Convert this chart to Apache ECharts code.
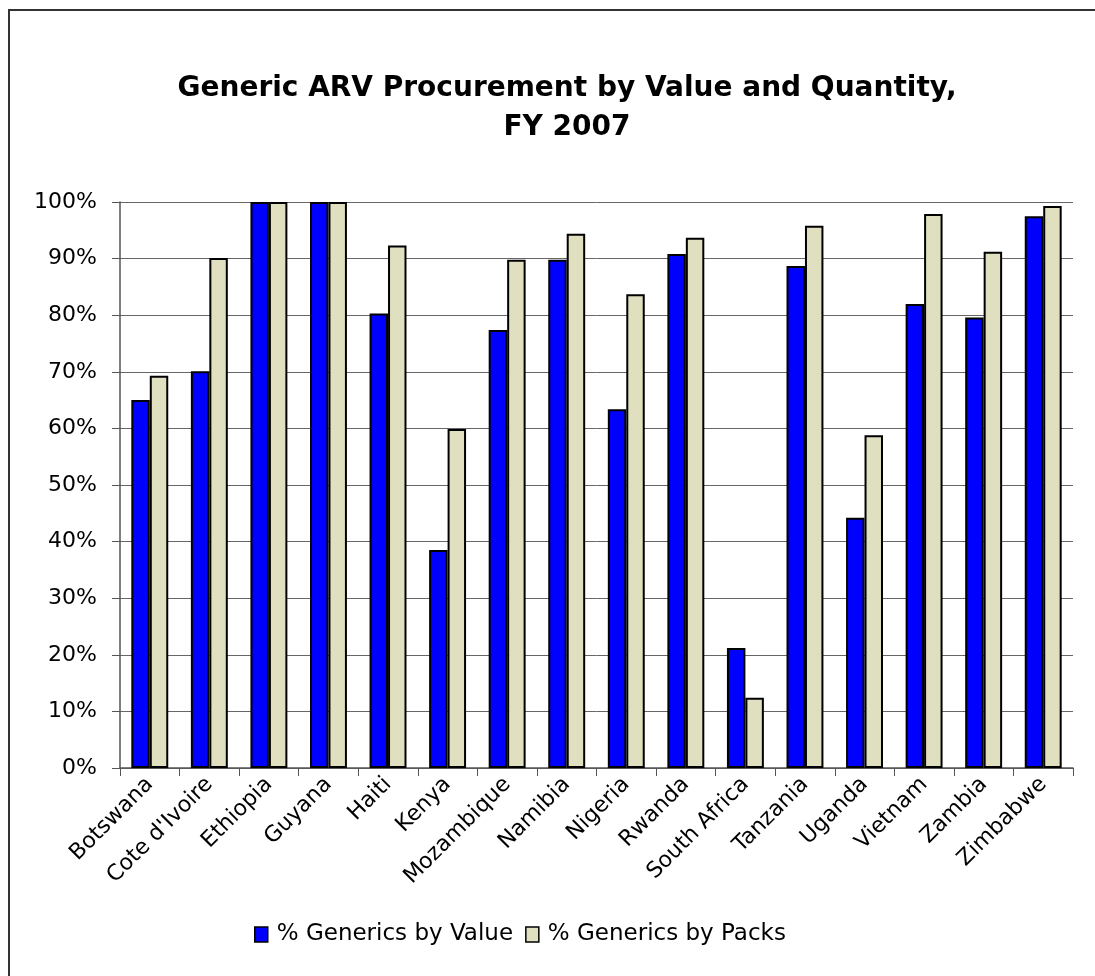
<!DOCTYPE html>
<html>
<head>
<meta charset="utf-8">
<script src="https://cdn.jsdelivr.net/npm/echarts@6/dist/echarts.min.js"></script>
<style>
  html, body { margin: 0; height: 100%; background: #fff; }
  #chart { width: 1095px; height: 976px; }
</style>
</head>
<body>
<div id="chart"></div>
<script>
  // categories and values
  const countries = ['Botswana', "Cote d'Ivoire", 'Ethiopia', 'Guyana', 'Haiti', 'Kenya',
    'Mozambique', 'Namibia', 'Nigeria', 'Rwanda', 'South Africa', 'Tanzania',
    'Uganda', 'Vietnam', 'Zambia', 'Zimbabwe'];
  const byValue = [65.0, 70.1, 100, 100, 80.3, 38.5, 77.4, 89.8, 63.4, 90.8, 21.2, 88.7, 44.2, 82.0, 79.6, 97.5];
  const byPacks = [69.3, 90.1, 100, 100, 92.3, 59.9, 89.8, 94.4, 83.7, 93.7, 12.4, 95.8, 58.8, 97.9, 91.2, 99.3];
  const seriesNames = ['% Generics by Value', '% Generics by Packs'];

  const font = 'DejaVu Sans';
  const chart = echarts.init(document.getElementById('chart'), null, { renderer: 'canvas' });

  const option = {
    animation: false,
    backgroundColor: '#fff',
    title: {
      text: 'Generic ARV Procurement by Value and Quantity,\nFY 2007',
      left: 562,
      textAlign: 'center',
      top: 64,
      textStyle: {
        fontFamily: font,
        fontWeight: 'bold',
        fontSize: 28,
        lineHeight: 39,
        color: '#000'
      }
    },
    graphic: [{
      type: 'rect',
      shape: { x: 9, y: 10, width: 1100, height: 1000 },
      style: { fill: 'none', stroke: '#333', lineWidth: 2 },
      silent: true
    }],
    legend: {
      top: 918,
      left: 249,
      icon: 'rect',
      itemWidth: 13,
      itemHeight: 15,
      itemGap: 12,
      textStyle: { fontFamily: font, fontSize: 23, color: '#000', padding: [0, 0, 0, 4] },
      data: seriesNames.map(n => ({ name: n, itemStyle: { borderColor: '#000', borderWidth: 1.5 } }))
    },
    grid: { left: 120, right: 22, top: 202, bottom: 208 },
    xAxis: {
      type: 'category',
      data: countries,
      axisLine: { lineStyle: { color: '#555', width: 1.5 } },
      axisTick: { show: true, length: 8, lineStyle: { color: '#555' } },
      axisLabel: {
        rotate: 45,
        interval: 0,
        margin: 13,
        fontFamily: font,
        fontSize: 22,
        color: '#000'
      }
    },
    yAxis: {
      type: 'value',
      min: 0,
      max: 100,
      interval: 10,
      axisLine: { show: true, lineStyle: { color: '#555', width: 1.5 } },
      axisTick: { show: true, length: 8, lineStyle: { color: '#555' } },
      axisLabel: {
        formatter: '{value}%',
        margin: 23,
        fontFamily: font,
        fontSize: 22,
        color: '#000'
      },
      splitLine: { lineStyle: { color: '#666', width: 1 } }
    },
    series: [
      {
        name: seriesNames[0],
        type: 'bar',
        data: byValue,
        barGap: '0%',
        barCategoryGap: '38%',
        itemStyle: { color: '#0000ff', borderColor: '#000', borderWidth: 2 }
      },
      {
        name: seriesNames[1],
        type: 'bar',
        data: byPacks,
        barGap: '0%',
        barCategoryGap: '38%',
        itemStyle: { color: '#e0e0c0', borderColor: '#000', borderWidth: 2 }
      }
    ]
  };

  chart.setOption(option);
  window.addEventListener('resize', chart.resize);
</script>
</body>
</html>
